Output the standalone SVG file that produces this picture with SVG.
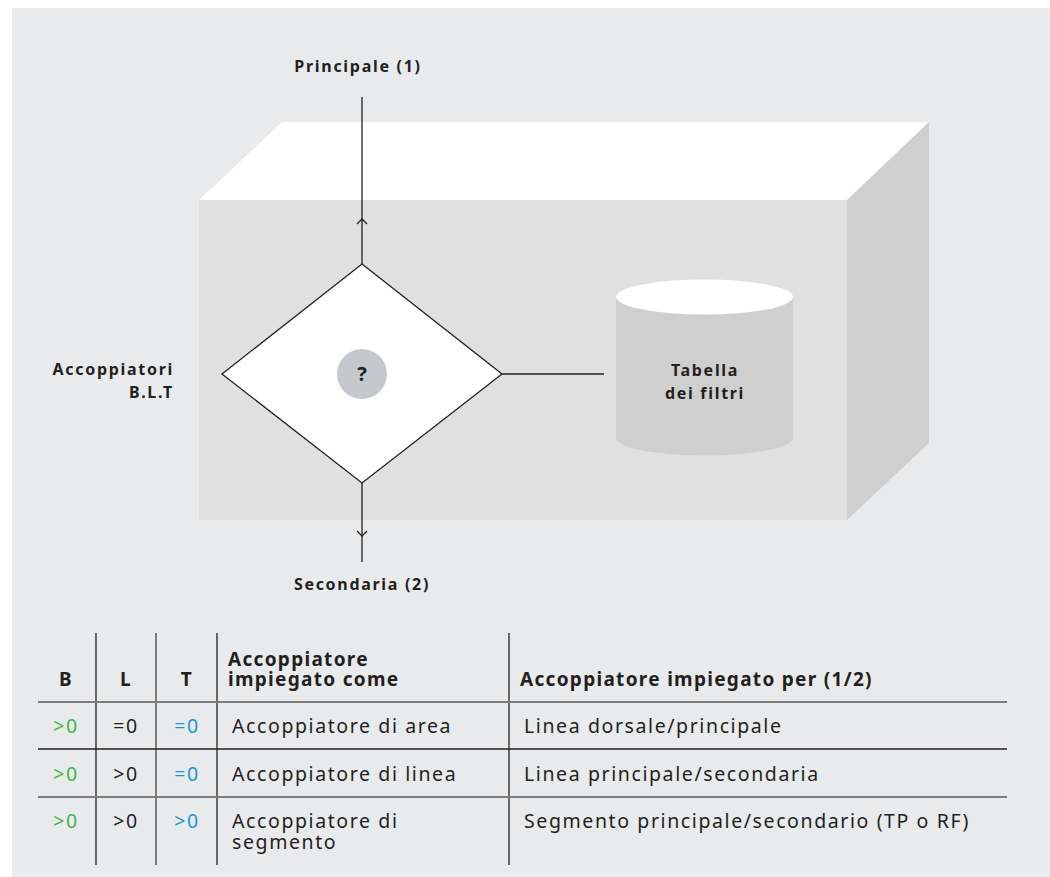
<svg xmlns="http://www.w3.org/2000/svg" width="1050" height="877" viewBox="0 0 1050 877">
<defs>
<style>
.lbl{font-family:"Noto Sans","Liberation Sans",sans-serif;font-weight:bold;font-size:16px;letter-spacing:1.7px;fill:#231f20}
.hd{font-family:"Noto Sans","Liberation Sans",sans-serif;font-weight:bold;font-size:19px;letter-spacing:1.3px;fill:#231f20}
.td{font-family:"Noto Sans","Liberation Sans",sans-serif;font-size:19.5px;letter-spacing:1.6px;fill:#231f20}
.g{fill:#3fb54b}
.b{fill:#1b96d2}
.ln{stroke:#231f20;stroke-width:1.3;fill:none}
.tl{stroke:#231f20;stroke-width:1.3}
.tg{stroke:#7d7d7d;stroke-width:2}
</style>
</defs>
<rect x="0" y="0" width="1050" height="877" fill="#ffffff"/>
<rect x="12" y="8" width="1038" height="869" fill="#e9eaec"/>

<g id="box">
<polygon points="199,200 282,122 929,122 847,200" fill="#ffffff"/>
<polygon points="847,200 929,122 929,443 847,520" fill="#cfcfcf"/>
<rect x="199" y="200" width="648" height="320" fill="#e0e0e0"/>
</g>

<g id="connectors">
<line class="ln" x1="362" y1="97" x2="362" y2="264"/>
<path d="M357,224 L362,219 L367,224" class="ln"/>
<line class="ln" x1="502" y1="374" x2="604" y2="374"/>
<line class="ln" x1="362" y1="483" x2="362" y2="562"/>
<path d="M357,531 L362,536 L367,531" class="ln"/>
</g>

<g id="decision">
<polygon points="362,264 502,374 362,483 222,374" fill="#ffffff" stroke="#231f20" stroke-width="1.3"/>
<circle cx="362" cy="374" r="25" fill="#c5c9cd"/>
<text x="362" y="381" text-anchor="middle" font-family="Noto Sans, Liberation Sans, sans-serif" font-weight="bold" font-size="20px" fill="#231f20">?</text>
</g>

<g id="filter-table">
<path d="M616,297 L616,438 A88.5,17.5 0 0 0 793,438 L793,297 Z" fill="#cfcfcf"/>
<ellipse cx="704.5" cy="297" rx="88.5" ry="17.5" fill="#ffffff"/>
<text class="lbl" x="705" y="376" text-anchor="middle">Tabella</text>
<text class="lbl" x="705" y="399" text-anchor="middle">dei filtri</text>
</g>

<g id="label-principale">
<text class="lbl" x="358" y="72" text-anchor="middle">Principale (1)</text>
</g>
<g id="label-secondaria">
<text class="lbl" x="362" y="590" text-anchor="middle">Secondaria (2)</text>
</g>
<g id="label-accoppiatori">
<text class="lbl" x="174" y="375" text-anchor="end">Accoppiatori</text>
<text class="lbl" x="174" y="398" text-anchor="end">B.L.T</text>
</g>

<g id="table">
<line class="tl" x1="96" y1="633" x2="96" y2="865"/>
<line class="tg" x1="156" y1="633" x2="156" y2="865"/>
<line class="tl" x1="217" y1="633" x2="217" y2="865"/>
<line class="tl" x1="509" y1="633" x2="509" y2="865"/>
<line class="tg" x1="38" y1="702" x2="1007" y2="702"/>
<line class="tl" x1="38" y1="749" x2="1007" y2="749"/>
<line class="tg" x1="38" y1="797" x2="1007" y2="797"/>

<text class="hd" x="66" y="686" text-anchor="middle">B</text>
<text class="hd" x="126" y="686" text-anchor="middle">L</text>
<text class="hd" x="187" y="686" text-anchor="middle">T</text>
<text class="hd" x="228" y="666">Accoppiatore</text>
<text class="hd" x="228" y="686">impiegato come</text>
<text class="hd" x="520" y="686">Accoppiatore impiegato per (1/2)</text>

<text class="td g" x="66" y="733" text-anchor="middle">&gt;0</text>
<text class="td" x="126" y="733" text-anchor="middle">=0</text>
<text class="td b" x="187" y="733" text-anchor="middle">=0</text>
<text class="td" x="232" y="733">Accoppiatore di area</text>
<text class="td" x="524" y="733">Linea dorsale/principale</text>

<text class="td g" x="66" y="781" text-anchor="middle">&gt;0</text>
<text class="td" x="126" y="781" text-anchor="middle">&gt;0</text>
<text class="td b" x="187" y="781" text-anchor="middle">=0</text>
<text class="td" x="232" y="781">Accoppiatore di linea</text>
<text class="td" x="524" y="781">Linea principale/secondaria</text>

<text class="td g" x="66" y="828" text-anchor="middle">&gt;0</text>
<text class="td" x="126" y="828" text-anchor="middle">&gt;0</text>
<text class="td b" x="187" y="828" text-anchor="middle">&gt;0</text>
<text class="td" x="232" y="828">Accoppiatore di</text>
<text class="td" x="232" y="849">segmento</text>
<text class="td" x="524" y="828">Segmento principale/secondario (TP o RF)</text>
</g>
</svg>
